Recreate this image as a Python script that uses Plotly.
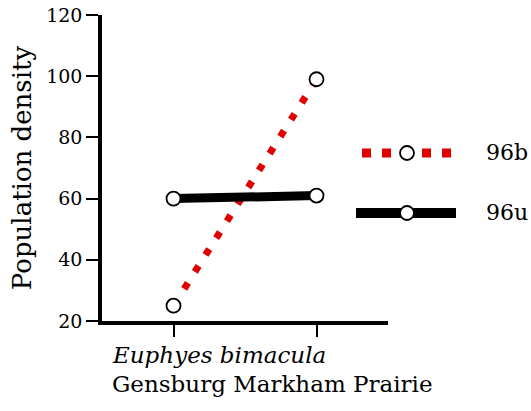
import plotly.graph_objects as go

categories = ["Gensburg", "Markham Prairie"]
series_names = ["96b", "96u"]
values_96b = [25, 99]
values_96u = [60, 61]
y_ticks = [20, 40, 60, 80, 100, 120]

FONT = "DejaVu Serif"
W, H = 531, 411
ML, MR, MT, MB = 102, 20, 15, 90
PW = W - ML - MR
PH = H - MT - MB
main_right = 388

def px2fx(px):
    return (px - ML) / PW

def py2fy(py):
    return (H - MB - py) / PH

xpos = list(range(len(categories)))
circle = dict(symbol="circle", size=14, color="white",
              line=dict(color="black", width=1.8))

fig = go.Figure()

# main traces
fig.add_trace(go.Scatter(
    x=xpos, y=values_96b, mode="lines", name=series_names[0],
    line=dict(color="#e00000", width=7, dash="7px,13px"),
    showlegend=False))
fig.add_trace(go.Scatter(
    x=xpos, y=values_96u, mode="lines", name=series_names[1],
    line=dict(color="black", width=9),
    showlegend=False))
for vals in (values_96b, values_96u):
    fig.add_trace(go.Scatter(
        x=xpos, y=vals, mode="markers", showlegend=False,
        marker=circle, cliponaxis=False))

# custom legend (subplot x2/y2 measured in pixels)
leg_styles = [
    dict(color="#e00000", width=9, dash="9px,11px"),
    dict(color="black", width=10),
]
leg_rows = [153, 213]
leg_ranges = [(362, 452), (356, 456)]
leg_mid = 407
for i, name in enumerate(series_names):
    x0, x1 = leg_ranges[i]
    fig.add_trace(go.Scatter(
        x=[x0, x1], y=[leg_rows[i], leg_rows[i]], mode="lines", showlegend=False,
        line=leg_styles[i], xaxis="x2", yaxis="y2", hoverinfo="skip"))
    fig.add_trace(go.Scatter(
        x=[leg_mid], y=[leg_rows[i]], mode="markers", showlegend=False,
        marker=circle, xaxis="x2", yaxis="y2", hoverinfo="skip", cliponaxis=False))
    fig.add_annotation(
        x=px2fx(484), y=py2fy(leg_rows[i]), xref="paper", yref="paper",
        text=name, showarrow=False, xanchor="left", yanchor="middle",
        font=dict(family=FONT, size=22, color="black"))

fig.update_layout(
    width=W, height=H,
    margin=dict(l=ML, r=MR, t=MT, b=MB, autoexpand=False),
    paper_bgcolor="white", plot_bgcolor="rgba(0,0,0,0)",
    font=dict(family=FONT, color="black"),
    xaxis=dict(
        domain=[0, px2fx(main_right)], range=[-0.5, 1.5],
        tickvals=xpos, ticktext=["", ""], automargin=False,
        showline=True, linecolor="black", linewidth=3.5,
        ticks="outside", ticklen=12, tickwidth=2, tickcolor="black",
        showgrid=False, zeroline=False),
    yaxis=dict(
        domain=[0, 1], range=[20, 120],
        tickvals=y_ticks, automargin=False,
        showline=True, linecolor="black", linewidth=3.5,
        ticks="outside", ticklen=12, tickwidth=2, tickcolor="black",
        tickfont=dict(family=FONT, size=19),
        showgrid=False, zeroline=False,
        title=dict(text="Population density", font=dict(family=FONT, size=26), standoff=8)),
    xaxis2=dict(domain=[px2fx(350), px2fx(462)], range=[350, 462], automargin=False,
                visible=False, anchor="y2", fixedrange=True),
    yaxis2=dict(domain=[0, 1], range=[H - MB, MT], automargin=False,
                visible=False, anchor="x2", fixedrange=True),
)

fig.add_annotation(
    x=px2fx(110), y=py2fy(355), xref="paper", yref="paper",
    text="<i>Euphyes bimacula</i>", showarrow=False, xanchor="left", yanchor="middle",
    font=dict(family=FONT, size=23))
fig.add_annotation(
    x=px2fx(110), y=py2fy(384), xref="paper", yref="paper",
    text=" ".join(categories), showarrow=False, xanchor="left", yanchor="middle",
    font=dict(family=FONT, size=23))

fig.write_html("out.html")
